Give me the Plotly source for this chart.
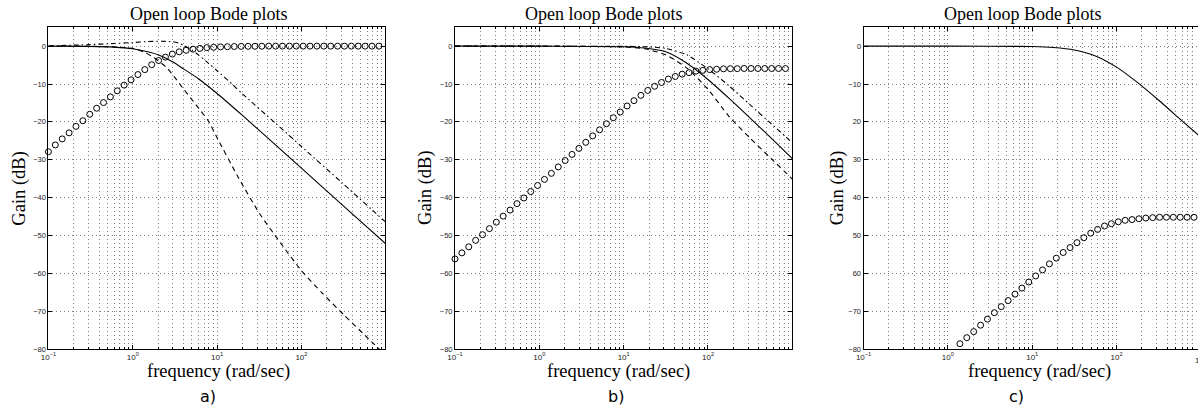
import numpy as np
import plotly.graph_objects as go

W, H = 1198, 415

# ---------------- data ----------------
# sample grid of the circle-marker series (rad/sec)
FREQ_MARKERS = np.logspace(-1, 3, 50)

# panel a)
FREQ_A_SOLID = [0.1, 0.3, 0.6, 1, 1.5, 2, 3, 4, 6, 10, 20, 50, 100, 300, 1000]
GAIN_A_SOLID = [0.0, -0.07, -0.25, -0.7, -1.5, -2.3, -4.2, -6.0, -8.6, -12.5, -18.3, -26.2, -32.2, -41.8, -52.2]

FREQ_A_DASHDOT = [0.1, 0.3, 0.6, 1, 1.5, 2.2, 3, 3.5, 4, 5, 6, 8, 10, 15, 20, 50, 100, 300, 1000]
GAIN_A_DASHDOT = [0.05, 0.4, 0.7, 0.95, 1.2, 1.3, 1.15, 0.8, 0.2, -1.0, -2.3, -4.6, -6.5, -10.0, -12.6, -20.5, -26.5, -36.0, -46.5]

FREQ_A_DASH = [0.1, 0.316, 0.6, 1, 1.4, 1.778, 2.5, 3.162, 4.0, 5.623, 7.9, 10, 17.78, 31.62,
               56.23, 100, 177.8, 316.2, 562.3, 1000]
GAIN_A_DASH = [0.0, -0.05, -0.2, -0.6, -1.7, -3.0, -5.6, -8.3, -11.3, -15.5, -19.8, -24.2, -34.6, -44.1,
               -51.9, -59.3, -65.3, -70.9, -76.3, -81.7]

GAIN_A_CIRCLES = [-27.9, -26.1, -24.5, -22.9, -21.2, -19.7, -18.0, -16.4, -14.9, -13.4,
                  -11.8, -10.3, -8.9, -7.5, -6.2, -4.9, -3.8, -2.9, -2.1, -1.5,
                  -1.1, -0.8, -0.6, -0.4, -0.3, -0.2, -0.15, -0.1, -0.07, -0.05,
                  -0.03, -0.02, 0.0, 0.0, 0.0, 0.0, 0.0, 0.0, 0.0, 0.0,
                  0.0, 0.0, 0.0, 0.0, 0.0, 0.0, 0.0, 0.0, 0.0, 0.0]

# panel b)
FREQ_B = [0.1, 1, 10, 17.8, 31.6, 56.2, 100, 178, 316, 562, 1000]
GAIN_B_SOLID = [0.0, -0.01, -0.15, -0.5, -1.5, -4.5, -8.8, -13.8, -19.0, -24.3, -29.7]
GAIN_B_DASHDOT = [0.0, 0.0, -0.05, -0.15, -0.6, -2.3, -6.0, -10.5, -15.5, -20.5, -25.5]
GAIN_B_DASH = [0.0, -0.01, -0.2, -0.7, -2.3, -5.8, -11.4, -18.6, -24.3, -29.7, -35.1]

GAIN_B_CIRCLES = [-56.2, -54.6, -53.0, -51.3, -49.8, -48.2, -46.5, -44.9, -43.3, -41.6,
                  -40.1, -38.4, -36.8, -35.2, -33.6, -31.9, -30.2, -28.6, -27.0, -25.4,
                  -23.7, -22.1, -20.5, -18.9, -17.4, -15.8, -14.4, -13.0, -11.7, -10.6,
                  -9.6, -8.7, -8.0, -7.4, -7.0, -6.6, -6.4, -6.2, -6.1, -6.0,
                  -5.95, -5.95, -5.9, -5.9, -5.9, -5.9, -5.9, -5.9, -5.9, -5.9]

# panel c)
FREQ_C = [0.1, 1, 10, 17.8, 31.6, 56.2, 100, 178, 316, 562, 1000]
GAIN_C_SOLID = [0.0, 0.0, -0.1, -0.34, -1.0, -2.6, -5.55, -9.65, -14.3, -19.2, -24.1]

GAIN_C_CIRCLES = [None] * 13 + [
    -80.2, -78.6, -77.0, -75.4, -73.7, -72.1, -70.4, -68.8, -67.2, -65.5,
    -63.9, -62.3, -60.7, -59.1, -57.5, -56.0, -54.5, -53.2, -51.9, -50.6,
    -49.4, -48.4, -47.5, -46.9, -46.4, -46.0, -45.8, -45.6, -45.4, -45.3,
    -45.2, -45.2, -45.2, -45.2, -45.2, -45.2, -45.2]

# axis ticks
DECADES = [0.1, 1, 10, 100, 1000]
DECADE_LABELS = ["10<sup>−1</sup>", "10<sup>0</sup>", "10<sup>1</sup>", "10<sup>2</sup>", "10<sup>3</sup>"]
MINOR_FREQ = [m * d for d in [0.1, 1, 10, 100] for m in range(2, 10)]
GAIN_TICKS = [-80, -70, -60, -50, -40, -30, -20, -10, 0]
GAIN_LABELS = ["−80", "−70", "−60", "−50", "−40", "−30", "−20", "−10", "0"]
GAIN_LABELS_C = ["−80", "−70", "60", "50", "40", "30", "20", "−10", "0"]

TITLE = "Open loop Bode plots"
XLABEL = "frequency (rad/sec)"
YLABEL = "Gain (dB)"
PANEL_TAGS = ["a)", "b)", "c)"]

# ---------------- layout geometry (pixels) ----------------
PLOT_TOP, PLOT_BOTTOM = 27.0, 353.3
DECADE_PX = 84.9
PANEL_X = [(40.7, 380.0), (450.0, 789.3), (861.3, 1198.0)]
TITLE_X = [202.5, 600.0, 1022.0]
XLABEL_X = [211.5, 615.0, 1038.0]
YLABEL_X = [12.0, 421.0, 835.0]
TAG_X = [201.0, 612.0, 1015.0]

SERIF = "Liberation Serif, Times New Roman, serif"
SANS = "Liberation Sans, Arial, sans-serif"
GRID = "#808080"
GRID_DASH = "1px,3px"


def fx(p):
    return p / W


def fy(p):
    return 1 - p / H


fig = go.Figure()

line_solid = dict(color="black", width=1.1)
line_dash = dict(color="black", width=1.1, dash="5px,4px")
line_dashdot = dict(color="black", width=1.1, dash="5px,3px,1.5px,3px")
marker_open = dict(symbol="circle-open", size=6, color="black", line=dict(width=1, color="black"))


def add_line(ax, x, y, style):
    fig.add_trace(go.Scatter(x=x, y=y, mode="lines", line=dict(style, shape="spline", smoothing=0.6),
                             xaxis="x" + ax, yaxis="y" + ax, showlegend=False, hoverinfo="skip"))


def add_circles(ax, y):
    fig.add_trace(go.Scatter(x=FREQ_MARKERS, y=y, mode="markers", marker=marker_open, cliponaxis=False,
                             xaxis="x" + ax, yaxis="y" + ax, showlegend=False, hoverinfo="skip"))


# panel a
add_circles("", GAIN_A_CIRCLES)
add_line("", FREQ_A_DASH, GAIN_A_DASH, line_dash)
add_line("", FREQ_A_DASHDOT, GAIN_A_DASHDOT, line_dashdot)
add_line("", FREQ_A_SOLID, GAIN_A_SOLID, line_solid)

# panel b
add_circles("2", GAIN_B_CIRCLES)
add_line("2", FREQ_B, GAIN_B_DASH, line_dash)
add_line("2", FREQ_B, GAIN_B_DASHDOT, line_dashdot)
add_line("2", FREQ_B, GAIN_B_SOLID, line_solid)

# panel c
add_circles("3", GAIN_C_CIRCLES)
add_line("3", FREQ_C, GAIN_C_SOLID, line_solid)

y_range = [-80, (46.7 - PLOT_TOP) / 3.8325]
layout = dict(
    width=W, height=H,
    margin=dict(l=0, r=0, t=0, b=0),
    paper_bgcolor="white", plot_bgcolor="white",
    showlegend=False,
)

annotations = []
for i, (x0, x1) in enumerate(PANEL_X):
    suf = "" if i == 0 else str(i + 1)
    x_end = -1 + (x1 - x0) / DECADE_PX
    layout["xaxis" + suf] = dict(
        type="log", range=[-1, x_end],
        domain=[fx(x0), fx(x1)], anchor="y" + suf,
        tickmode="array", tickvals=DECADES, ticktext=DECADE_LABELS,
        tickfont=dict(family=SANS, size=8, color="#222"),
        ticks="inside", ticklen=4, tickcolor="black",
        showline=True, linecolor="black", linewidth=1, mirror="allticks",
        showgrid=True, gridcolor=GRID, griddash=GRID_DASH, gridwidth=1,
        zeroline=False, fixedrange=True,
        minor=dict(tickmode="array", tickvals=MINOR_FREQ, ticks="inside", ticklen=2,
                   tickcolor="black", showgrid=True, gridcolor=GRID, griddash=GRID_DASH, gridwidth=1),
    )
    layout["yaxis" + suf] = dict(
        range=y_range,
        domain=[fy(PLOT_BOTTOM), fy(PLOT_TOP)], anchor="x" + suf,
        tickmode="array", tickvals=GAIN_TICKS,
        ticktext=GAIN_LABELS_C if i == 2 else GAIN_LABELS,
        tickfont=dict(family=SANS, size=7.5, color="#222"),
        ticks="inside", ticklen=4, tickcolor="black",
        showline=True, linecolor="black", linewidth=1,
        mirror=False if i == 2 else "allticks",
        showgrid=True, gridcolor=GRID, griddash=GRID_DASH, gridwidth=1,
        zeroline=False, fixedrange=True,
    )
    annotations.append(dict(text=TITLE, x=fx(TITLE_X[i]), y=fy(14.5), xref="paper", yref="paper",
                            showarrow=False, xanchor="center", yanchor="middle",
                            font=dict(family=SERIF, size=18, color="black")))
    annotations.append(dict(text=XLABEL, x=fx(XLABEL_X[i]), y=fy(376), xref="paper", yref="paper",
                            showarrow=False, xanchor="center", yanchor="middle",
                            font=dict(family=SERIF, size=18.5, color="black")))
    annotations.append(dict(text=YLABEL, x=fx(YLABEL_X[i]), y=fy(190), xref="paper", yref="paper",
                            showarrow=False, xanchor="center", yanchor="middle", textangle=-90,
                            font=dict(family=SERIF, size=18.5, color="black")))
    annotations.append(dict(text=PANEL_TAGS[i], x=fx(TAG_X[i]), y=fy(401), xref="paper", yref="paper",
                            showarrow=False, xanchor="center", yanchor="middle",
                            font=dict(family="DejaVu Sans, sans-serif", size=16, color="black")))

# last decade label of panel c sits past the right edge of the page
annotations.append(dict(text=DECADE_LABELS[-1], x=fx(PANEL_X[2][0] + 4 * DECADE_PX), y=fy(364),
                        xref="paper", yref="paper", showarrow=False, xanchor="center", yanchor="middle",
                        font=dict(family=SANS, size=8, color="#222")))

layout["annotations"] = annotations
fig.update_layout(**layout)
fig.write_html("out.html")
